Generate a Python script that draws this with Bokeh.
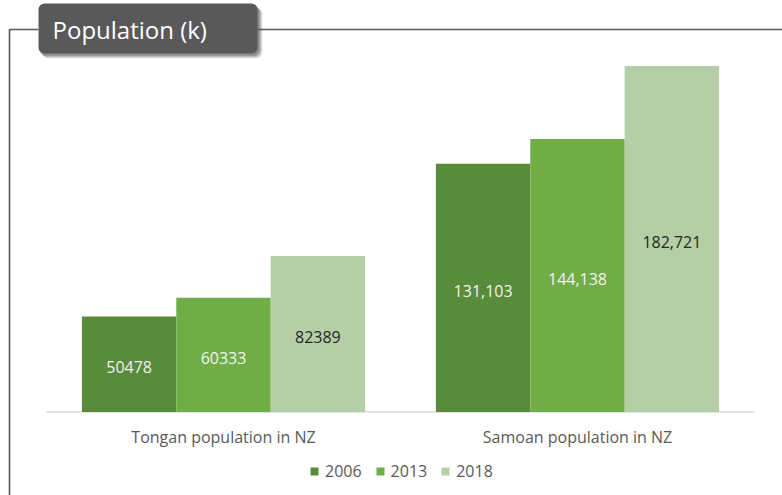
from bokeh.plotting import figure
from bokeh.models import Range1d, BoxAnnotation, Legend, LegendItem, ColumnDataSource
from bokeh.core.properties import value
from bokeh.embed import file_html
from bokeh.resources import INLINE

# ---------------- data ----------------
categories = ["Tongan population in NZ", "Samoan population in NZ"]
years = ["2006", "2013", "2018"]
pop_2006 = [50478, 131103]
pop_2013 = [60333, 144138]
pop_2018 = [82389, 182721]
labels_2006 = ["50478", "131,103"]
labels_2013 = ["60333", "144,138"]
labels_2018 = ["82389", "182,721"]
title_text = "Population (k)"

# ---------------- layout constants ----------------
W, H = 782, 495
BASE_PX = 411.5          # pixel row of the zero line
UNITS_PER_PX = 528.0     # population per pixel
CAT0_PX, CAT_STEP_PX = 223.0, 354.0
FONT = "Open Sans"
GRAY = "#595959"
colors = ["#588B3A", "#70AD47", "#B4CEA6"]
label_colors = ["#F2F2F2", "#F2F2F2", "#262626"]

p = figure(width=W, height=H, output_backend="svg", toolbar_location=None,
           x_axis_type=None, y_axis_type=None, min_border=0,
           x_range=Range1d((0 - CAT0_PX) / CAT_STEP_PX, (W - CAT0_PX) / CAT_STEP_PX),
           y_range=Range1d(-(H - BASE_PX) * UNITS_PER_PX, BASE_PX * UNITS_PER_PX))
p.outline_line_color = None
p.grid.visible = False
p.background_fill_color = "white"
p.border_fill_color = "white"

# page coordinate system for the decorations
p.extra_x_ranges = {"page_x": Range1d(0, W)}
p.extra_y_ranges = {"page_y": Range1d(H, 0)}

# frame lines
p.multi_line(xs=[[9, 9, 38], [257, W + 5]], ys=[[H + 5, 29, 29], [29, 29]],
             line_color=GRAY, line_width=1.6,
             x_range_name="page_x", y_range_name="page_y")

# title box with shadow
for d, a in [(5, 0.10), (4, 0.12), (3, 0.15), (2, 0.18)]:
    p.add_layout(BoxAnnotation(left=38 + d - 1, right=257 + d, top=3 + d, bottom=53 + d,
                               x_range_name="page_x", y_range_name="page_y",
                               fill_color="#000000", fill_alpha=a, line_color=None,
                               border_radius=6, level="underlay"))
p.add_layout(BoxAnnotation(left=38, right=257, top=3, bottom=53,
                           x_range_name="page_x", y_range_name="page_y",
                           fill_color=GRAY, fill_alpha=1.0, line_color=None,
                           border_radius=6, level="underlay"))
p.text(x=[52], y=[29], text=[title_text], text_color="white",
       text_font=value(FONT), text_font_size="24px", text_baseline="middle",
       x_range_name="page_x", y_range_name="page_y")

# zero line
p.segment(x0=[-0.5], x1=[1.5], y0=[0], y1=[0], line_color="#D9D9D9", line_width=1.5)

# bars
idx = list(range(len(categories)))
bar_w = 0.8 / 3
series = [pop_2006, pop_2013, pop_2018]
labels = [labels_2006, labels_2013, labels_2018]
items = []
for k, (yr, vals, labs) in enumerate(zip(years, series, labels)):
    xs = [i + (k - 1) * bar_w for i in idx]
    src = ColumnDataSource(dict(x=xs, top=vals, mid=[v / 2 for v in vals], lab=labs))
    r = p.vbar(x="x", top="top", bottom=0, width=bar_w, source=src,
               fill_color=colors[k], line_color=None)
    p.text(x="x", y="mid", text="lab", source=src, text_align="center",
           text_baseline="middle", y_offset=3, text_color=label_colors[k],
           text_font=value(FONT), text_font_size="16px")
    items.append(LegendItem(label=yr, renderers=[r]))

# category labels
p.text(x=idx, y=[0] * len(idx), text=categories, text_align="center",
       text_baseline="middle", y_offset=25, text_color=GRAY,
       text_font=value(FONT), text_font_size="16px")

legend = Legend(items=items, orientation="horizontal", location=(309, 13),
                padding=0, spacing=13, margin=0, glyph_width=10, glyph_height=10,
                label_standoff=6, label_height=10, border_line_color=None,
                background_fill_alpha=0, label_text_font=FONT,
                label_text_font_size="16px", label_text_color=GRAY)
p.add_layout(legend, "center")

open("out.html", "w").write(file_html(p, INLINE))
